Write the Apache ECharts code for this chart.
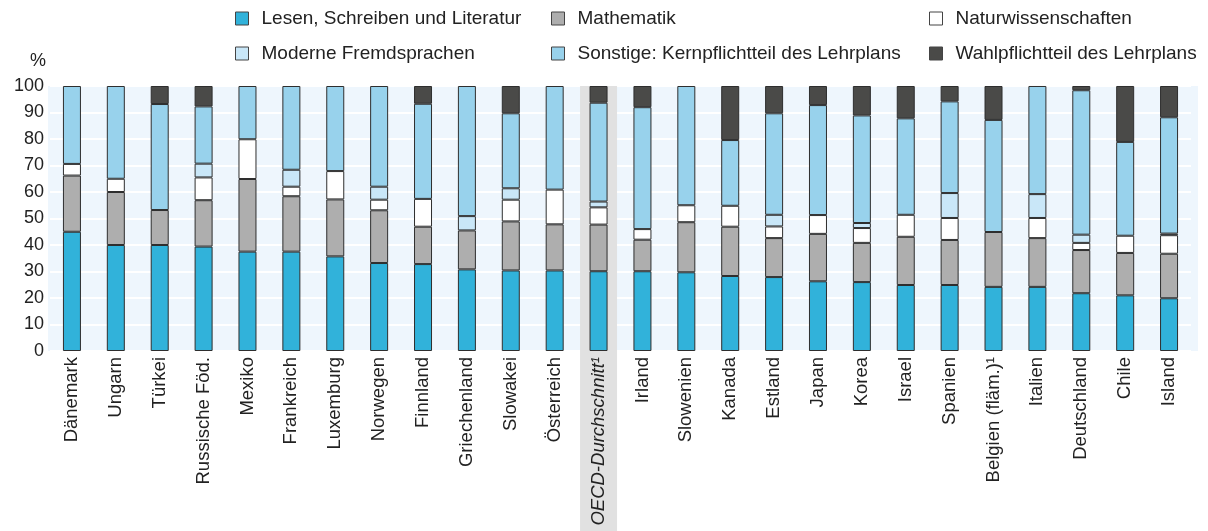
<!DOCTYPE html>
<html><head><meta charset="utf-8">
<script src="https://cdn.jsdelivr.net/npm/echarts@6/dist/echarts.min.js"></script>
<style>html,body{margin:0;padding:0;background:#fff}#c{width:1208px;height:531px}</style>
</head><body><div id="c"></div>
<script>
const categories = ['Dänemark','Ungarn','Türkei','Russische Föd.','Mexiko','Frankreich','Luxemburg','Norwegen','Finnland','Griechenland','Slowakei','Österreich','OECD-Durchschnitt¹','Irland','Slowenien','Kanada','Estland','Japan','Korea','Israel','Spanien','Belgien (fläm.)¹','Italien','Deutschland','Chile','Island'];
const lesen      = [45,40,40,39.4,37.5,37.5,35.7,33.2,32.8,30.8,30.4,30.4,30.1,30.1,29.7,28.3,27.9,26.3,26,24.9,24.9,24.2,24.2,21.8,21,19.9];
const mathematik = [21.2,20,13.2,17.5,27.4,20.9,21.5,19.9,14.1,14.7,18.5,17.4,17.6,11.9,18.9,18.6,14.7,17.9,14.8,18.2,17,20.7,18.4,16.3,16,16.8];
const natur      = [4.4,5,0,8.6,15,3.6,10.7,4,10.5,0,8.2,13.1,6.5,4,6.4,7.9,4.4,7.1,5.6,8.3,8.3,0,7.6,2.7,6.5,7];
const fremd      = [0,0,0,5.2,0,6.4,0,4.9,0,5.4,4.3,0,2.2,0,0,0,4.4,0,1.9,0,9.4,0,9,3.1,0,0.6];
const sonstige   = [29.4,35,40,21.6,20.1,31.6,32.1,38,35.9,49.1,28.3,39.1,37.3,46,45,24.8,38.3,41.5,40.6,36.4,34.6,42.3,40.8,54.5,35.4,43.9];
const wahl       = [0,0,6.8,7.7,0,0,0,0,6.7,0,10.3,0,6.3,8,0,20.4,10.3,7.2,11.1,12.2,5.8,12.8,0,1.6,21.1,11.8];
const yTicks = [0,10,20,30,40,50,60,70,80,90,100];
const highlight = 'OECD-Durchschnitt¹';

const names = ['Lesen, Schreiben und Literatur','Mathematik','Naturwissenschaften','Moderne Fremdsprachen','Sonstige: Kernpflichtteil des Lehrplans','Wahlpflichtteil des Lehrplans'];
const values = [lesen, mathematik, natur, fremd, sonstige, wahl];
const colors = ['#31B2DA','#AEAEAE','#FFFFFF','#C9E7F8','#98D2EC','#4A4A48'];
const FONT = 'Liberation Sans';

const chart = echarts.init(document.getElementById('c'));
const series = names.map((n,i)=>({
  name:n, type:'bar', stack:'t', barWidth:18, z:3,
  data: values[i].map(v => v===0 ? '-' : v),
  itemStyle:{color:colors[i], borderColor:'#2E2E2E', borderWidth:1},
  emphasis:{disabled:true}
}));
const legendBase = {orient:'vertical', itemWidth:13, itemHeight:13, itemGap:16, icon:'rect', padding:0,
  textStyle:{fontFamily:FONT, fontSize:19, lineHeight:19, color:'#222', padding:[0,0,0,8]},
  itemStyle:{borderColor:'#444', borderWidth:1}};
const GRID = {left:50, right:17, top:86, bottom:180};
chart.setOption({
  animation:false,
  color:colors,
  legend:[
    Object.assign({}, legendBase, {left:235, top:9, data:[names[0],names[3]]}),
    Object.assign({}, legendBase, {left:551, top:9, data:[names[1],names[4]]}),
    Object.assign({}, legendBase, {left:929, top:9, data:[names[2],names[5]]})
  ],
  grid:Object.assign({show:false}, GRID),
  xAxis:{type:'category', data:categories, z:5,
    axisLine:{show:false}, axisTick:{show:false},
    axisLabel:{rotate:90, interval:0, margin:6, fontFamily:FONT, fontSize:18.5, color:'#222',
      formatter:(v)=> v===highlight ? '{i|'+v+'}' : v,
      rich:{i:{fontStyle:'italic', fontFamily:FONT, fontSize:18.5, color:'#222'}}}},
  yAxis:{type:'value', min:yTicks[0], max:yTicks[yTicks.length-1], interval:10, z:1,
    name:'%', nameLocation:'end', nameGap:16, nameTextStyle:{fontFamily:FONT, fontSize:18, color:'#222', align:'right', padding:[0,4,0,0]},
    axisLine:{show:false}, axisTick:{show:false},
    axisLabel:{fontFamily:FONT, fontSize:18, color:'#222', margin:6},
    splitLine:{show:true, lineStyle:{color:'#FFFFFF', width:2}}},
  series:series
});
// plot background and gray band behind the OECD average column
const bandX = chart.convertToPixel({xAxisIndex:0}, highlight);
const yTop = chart.convertToPixel({yAxisIndex:0}, 100);
const yBot = chart.convertToPixel({yAxisIndex:0}, 0);
chart.setOption({graphic:[
  {type:'rect', z:0, silent:true, shape:{x:48, y:yTop, width:1150, height:yBot-yTop}, style:{fill:'#EEF6FD'}},
  {type:'rect', z:2, silent:true, shape:{x:bandX-18.5, y:yTop, width:37, height:531-yTop}, style:{fill:'#E1E1E1'}}
]});
</script></body></html>
